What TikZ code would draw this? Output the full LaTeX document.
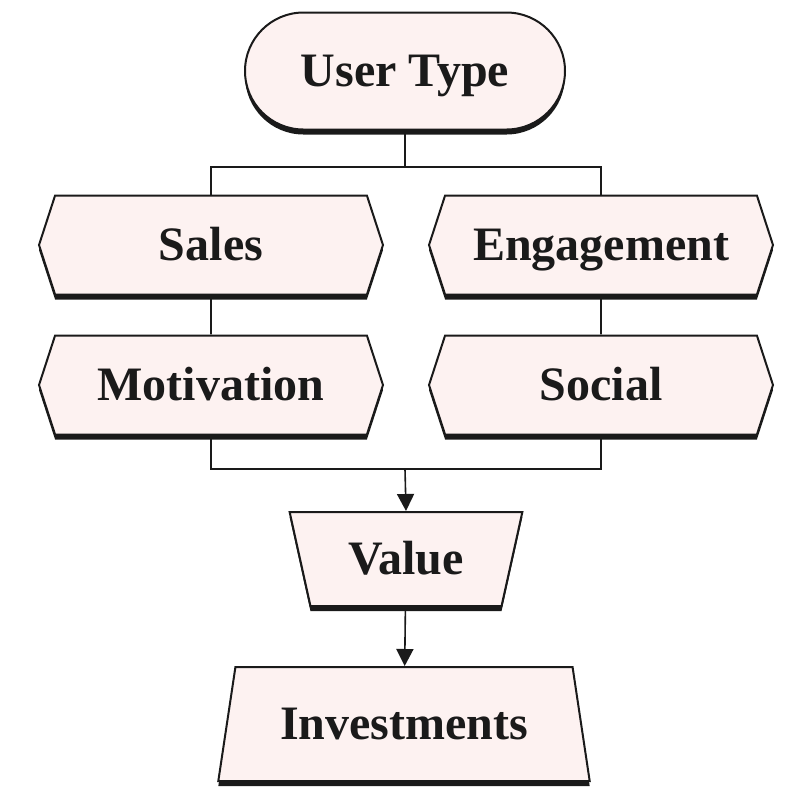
\documentclass[tikz,border=0pt]{standalone}
\usepackage{fontspec}
\setmainfont{Liberation Serif}
\usetikzlibrary{positioning,shapes.misc,shapes.symbols,shapes.geometric,shadows,arrows.meta}
\definecolor{blush}{HTML}{FDF2F1}
\definecolor{ink}{HTML}{1A1A1A}

\begin{document}
\begin{tikzpicture}[x=0.5pt, y=-0.5pt,
    every node/.style={font=\bfseries\fontsize{24}{28}\selectfont, text=ink,
      text height=19.5pt, text depth=4pt},
    box/.style={draw=ink, line width=1pt, fill=blush, inner sep=0pt,
      drop shadow={opacity=1, fill=ink, shadow xshift=0pt, shadow yshift=-2.5pt}},
    tag/.style={box, signal, signal to=west and east, signal pointer angle=144,
      minimum width=172pt, minimum height=49.5pt},
    link/.style={draw=ink, line width=0.8pt},
    flow/.style={link, -{Triangle[length=8.5pt,width=8.5pt]}}]
      \useasboundingbox (0,0) rectangle (800,800);
      % top of the chart
      \node[box, rounded rectangle, minimum width=160pt,
            minimum height=58.5pt] (user) at (405,71) {User Type};
      % the four groups
      \node[tag] (sales)  at (211,245) {Sales};
      \node[tag] (engage) at (601,245) {Engagement};
      \node[tag] (motiv)  at (211,385) {Motivation};
      \node[tag] (social) at (601,385) {Social};
      % results
      \node[box, trapezium, trapezium stretches=true, shape border rotate=180,
            trapezium left angle=75, trapezium right angle=75,
            minimum width=116.5pt, minimum height=47pt] (value) at (406,559) {Value};
      \node[box, trapezium, trapezium stretches=true,
            trapezium left angle=75, trapezium right angle=75,
            minimum width=186pt, minimum height=57pt] (invest) at (404,724) {Investments};
      % joints
      \coordinate (jt) at (405,167);
      \coordinate (jb) at (405,469);
      % connectors
      \draw[link] (user) -- (jt);
      \draw[link] (sales.north) |- (jt) -| (engage.north);
      \draw[link] (sales) -- (motiv);
      \draw[link] (engage) -- (social);
      \draw[link] (motiv.south) |- (jb) -| (social.south);
      \draw[flow] (jb) -- (value.north);
      \draw[flow] (value) -- (invest);
    \end{tikzpicture}
\end{document}
